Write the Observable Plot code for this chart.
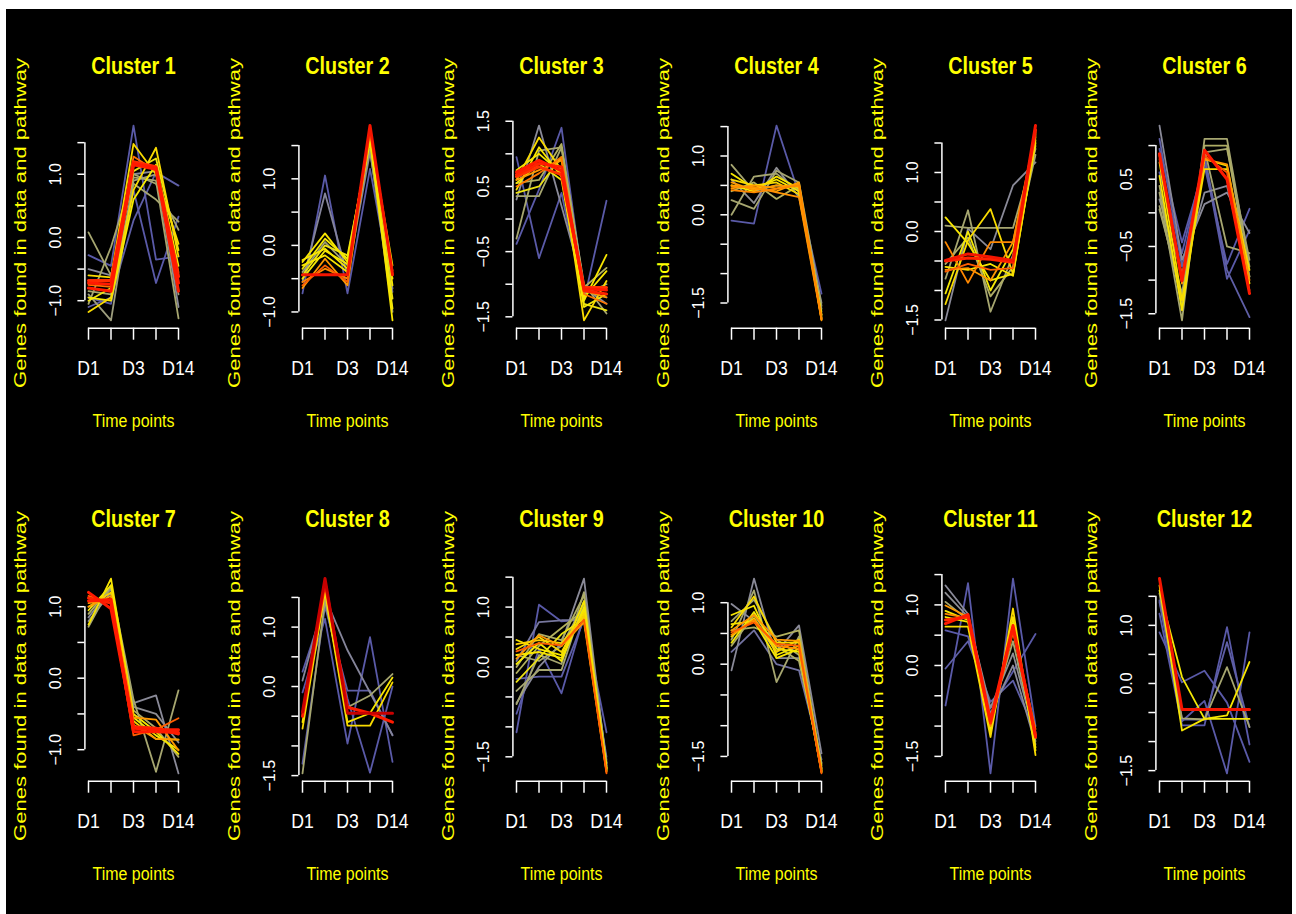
<!DOCTYPE html>
<html><head><meta charset="utf-8">
<script src="https://cdn.jsdelivr.net/npm/d3@7"></script>
<script src="https://cdn.jsdelivr.net/npm/@observablehq/plot@0.6"></script>
<style>
html,body{margin:0;padding:0;background:#fff;}
#root{position:relative;width:1296px;height:914px;overflow:hidden;background:#fff;}
#bg{position:absolute;left:6px;top:9px;width:1286px;height:906px;background:#000;}
.panel{position:absolute;}
</style></head><body><div id="root"><div id="bg"></div></div>
<script>
// ---------- data ----------
const timeIndex = [1, 2, 3, 4, 5];
const timeTickLabels = [[1, "D1"], [3, "D3"], [5, "D14"]];
const clusterNames = ["Cluster 1","Cluster 2","Cluster 3","Cluster 4","Cluster 5","Cluster 6",
  "Cluster 7","Cluster 8","Cluster 9","Cluster 10","Cluster 11","Cluster 12"];
const yTitle = "Genes found in data and pathway";
const xTitle = "Time points";

// membership -> colour
const memberStops  = [0.1, 0.3, 0.45, 0.65, 0.8, 0.95, 1];
const memberColors = ["#5a5aa8", "#8a8a98", "#a6a670", "#f8ec00", "#ff9900", "#ff1a00", "#c80000"];

// each row: [membership, D1, t2, D3, t4, D14]
const cluster1 = [
  [0.10,-0.28,-0.45,1.77,-0.35,-0.30],[0.10,-0.95,-1.05,0.75,-0.72,0.33],[0.12,-1.10,-0.95,0.27,1.03,0.82],
  [0.45,0.08,-0.60,0.95,0.90,-1.28],[0.40,-0.90,-1.312,0.90,1.00,-0.90],[0.45,-1.05,-0.15,1.00,0.85,0.12],
  [0.30,-0.50,-0.60,1.00,1.05,-1.10],[0.45,-0.85,-0.90,0.85,0.60,0.25],[0.68,-1.18,-0.95,0.75,1.42,-0.30],
  [0.68,-0.60,-0.63,1.48,1.00,-0.10],[0.65,-0.95,-1.00,0.60,1.15,-0.45],[0.62,-1.00,-0.80,1.05,1.25,-0.20],
  [0.85,-0.75,-0.78,1.28,1.05,-0.55],[0.95,-0.72,-0.74,1.17,1.10,-0.72],[0.95,-0.80,-0.85,1.15,1.08,-0.85],
  [0.93,-0.68,-0.68,1.20,1.12,-0.62]];
const cluster2 = [
  [0.10,-0.72,1.05,-0.72,1.15,-0.70],[0.28,-0.55,0.78,-0.45,1.40,-0.65],[0.42,-0.40,0.05,-0.30,1.45,-1.00],
  [0.66,-0.25,0.18,-0.25,1.65,-1.127],[0.64,-0.35,0.10,-0.20,1.60,-0.95],[0.66,-0.22,-0.05,-0.35,1.70,-0.60],
  [0.62,-0.45,0.00,-0.15,1.55,-0.80],[0.66,-0.30,-0.15,-0.40,1.62,-0.50],[0.64,-0.50,-0.08,-0.28,1.68,-0.30],
  [0.80,-0.64,-0.20,-0.60,1.72,-0.45],[0.82,-0.55,-0.35,-0.50,1.70,-0.38],[0.87,-0.60,-0.30,-0.55,1.75,-0.42],
  [0.96,-0.44,-0.44,-0.44,1.80,-0.44]];
const cluster3 = [
  [0.10,0.95,-0.60,0.40,-1.25,0.28],[0.10,-0.38,0.45,1.40,-1.10,-1.20],[0.30,0.30,1.433,0.20,-1.05,-1.30],
  [0.45,-0.30,1.05,1.10,-1.00,-1.45],[0.45,0.35,0.35,1.10,-1.15,-1.00],[0.48,0.55,0.60,1.15,-1.05,-0.75],
  [0.68,0.60,1.25,0.75,-1.555,-0.95],[0.66,0.45,1.10,0.65,-1.25,-0.55],[0.62,0.40,0.50,0.95,-1.30,-1.40],
  [0.66,0.75,1.00,0.70,-1.20,-0.80],[0.64,0.55,0.85,0.60,-1.35,-1.15],[0.80,0.60,0.75,0.90,-1.10,-1.20],
  [0.84,0.50,0.70,0.95,-1.15,-1.30],[0.95,0.72,0.90,0.74,-1.07,-1.09],[0.94,0.68,0.85,0.80,-1.10,-1.15],
  [0.92,0.65,0.80,0.68,-1.05,-1.05]];
const cluster4 = [
  [0.10,-0.10,-0.15,1.517,0.35,-1.34],[0.45,0.85,0.40,0.50,0.45,-1.60],[0.45,0.00,0.65,0.70,0.40,-1.65],
  [0.45,0.25,0.10,0.75,0.55,-1.55],[0.32,0.60,0.20,0.80,0.30,-1.50],[0.48,0.40,0.55,0.27,0.50,-1.70],
  [0.66,0.70,0.45,0.60,0.40,-1.72],[0.68,0.60,0.50,0.55,0.35,-1.75],[0.66,0.50,0.40,0.65,0.45,-1.70],
  [0.78,0.50,0.45,0.40,0.55,-1.78],[0.80,0.45,0.50,0.45,0.52,-1.796],[0.80,0.55,0.42,0.50,0.48,-1.77],
  [0.82,0.42,0.38,0.44,0.50,-1.76],[0.81,0.48,0.47,0.38,0.30,-1.78]];
const cluster5 = [
  [0.30,-1.507,0.05,-0.30,0.78,1.17],[0.45,-0.80,0.36,-1.36,-0.40,1.30],[0.45,0.10,0.06,0.06,0.06,1.40],
  [0.47,-0.55,-0.10,-1.10,-0.60,1.45],[0.66,0.24,-0.20,-0.83,-0.72,1.60],[0.68,-1.23,-0.15,0.38,-0.72,1.50],
  [0.64,-1.05,0.00,-1.00,-0.30,1.65],[0.66,-0.60,-0.65,-0.55,-0.75,1.55],[0.82,-0.18,-0.87,-0.18,-0.18,1.68],
  [0.80,-0.65,-0.62,-0.83,-0.18,1.62],[0.87,-0.68,-0.55,-0.65,-0.62,1.72],[0.96,-0.49,-0.38,-0.43,-0.49,1.795],
  [0.94,-0.50,-0.45,-0.47,-0.52,1.72]];
const cluster6 = [
  [0.10,0.95,-0.44,0.70,-0.76,0.06],[0.10,0.60,-0.60,0.80,-0.98,-0.26],[0.12,1.10,-0.80,0.85,-0.85,-1.55],
  [0.30,1.297,-0.70,0.13,0.30,-0.30],[0.30,0.20,-0.90,0.30,0.40,-0.95],[0.45,0.30,-1.599,1.10,1.10,-0.80],
  [0.45,0.10,-1.30,0.95,-0.50,-0.60],[0.47,0.40,-1.40,1.00,1.00,-0.95],[0.45,0.05,-1.20,0.90,0.95,-0.70],
  [0.68,0.75,-1.30,0.65,0.65,-0.85],[0.66,0.55,-1.45,0.80,0.70,-1.05],[0.80,0.85,-1.05,0.80,0.72,-1.00],
  [0.95,0.88,-1.01,0.93,0.50,-1.20],[0.88,0.80,-0.95,0.85,0.60,-1.15]];
const cluster7 = [
  [0.30,0.85,1.25,-0.35,-0.24,-1.332],[0.32,0.80,1.20,-0.40,-0.50,-0.90],[0.45,0.72,1.30,-0.30,-1.31,-0.17],
  [0.47,0.90,1.28,-0.45,-0.70,-1.10],[0.66,0.75,1.393,-0.50,-0.75,-1.06],[0.64,0.95,1.30,-0.55,-0.80,-1.00],
  [0.70,1.00,1.20,-0.60,-0.85,-0.86],[0.80,1.00,1.15,-0.55,-0.58,-1.01],[0.87,1.15,1.05,-0.80,-0.72,-0.56],
  [0.80,1.05,1.10,-0.65,-0.85,-0.86],[0.95,1.20,0.97,-0.70,-0.72,-0.72],[0.95,1.08,1.10,-0.75,-0.75,-0.76],
  [0.94,1.12,1.05,-0.68,-0.70,-0.78]];
const cluster8 = [
  [0.10,-0.10,1.14,-0.96,0.83,-1.27],[0.12,-1.30,1.35,-0.07,-0.07,-0.82],[0.10,0.25,1.40,-0.20,-1.45,0.00],
  [0.28,0.10,1.50,0.61,-0.10,-0.82],[0.45,-1.463,1.45,-0.35,-0.15,0.21],[0.68,-0.71,1.59,-0.66,-0.66,0.07],
  [0.66,-0.60,1.65,-0.60,-0.45,0.15],[0.95,-0.50,1.75,-0.35,-0.45,-0.60],[1.00,-0.43,1.817,-0.45,-0.45,-0.45]];
const cluster9 = [
  [0.10,-1.09,1.04,0.76,0.80,-1.09],[0.10,-0.78,0.30,-0.44,0.85,-1.50],[0.12,-0.20,-0.16,-0.16,0.80,-1.60],
  [0.22,0.10,0.75,0.78,0.78,-1.55],[0.30,-0.60,0.00,0.40,1.476,-1.65],[0.45,-0.62,0.20,0.05,1.25,-1.60],
  [0.45,-0.40,-0.05,-0.05,1.10,-1.65],[0.47,0.00,0.55,0.45,1.20,-1.70],[0.45,0.20,0.10,0.35,1.05,-1.62],
  [0.48,-0.10,0.35,0.65,0.95,-1.68],[0.66,0.45,0.30,0.20,1.10,-1.70],[0.64,0.05,0.40,0.10,1.00,-1.72],
  [0.68,0.30,0.50,0.25,0.90,-1.75],[0.70,0.38,0.45,0.40,0.85,-1.70],[0.62,-0.25,0.15,0.55,0.80,-1.73],
  [0.66,0.20,0.25,0.15,0.95,-1.68],[0.80,0.14,0.53,0.35,0.75,-1.75],[0.87,0.26,0.40,0.36,0.79,-1.777]];
const cluster10 = [
  [0.20,0.20,0.55,0.00,-0.10,-1.55],[0.30,-0.10,1.392,0.10,0.10,-1.60],[0.30,0.98,0.70,0.20,0.63,-1.45],
  [0.45,0.40,1.20,-0.29,0.45,-1.65],[0.45,0.70,1.05,0.40,0.15,-1.70],[0.47,0.30,0.80,0.30,0.05,-1.62],
  [0.48,0.55,0.60,0.45,0.55,-1.68],[0.66,0.80,0.95,0.15,0.30,-1.72],[0.64,0.35,0.85,0.25,0.20,-1.75],
  [0.68,0.60,1.10,0.35,0.35,-1.70],[0.70,0.45,0.75,0.20,0.40,-1.73],[0.66,0.65,0.70,0.10,0.25,-1.76],
  [0.80,0.55,0.80,0.40,0.38,-1.74],[0.82,0.48,0.72,0.30,0.25,-1.75],[0.87,0.52,0.68,0.33,0.30,-1.776]];
const cluster11 = [
  [0.10,-0.66,1.36,-1.781,1.434,-1.00],[0.10,0.58,0.48,-0.70,-0.10,0.52],[0.12,-0.05,0.40,-0.60,-0.25,-1.10],
  [0.30,1.32,0.85,-0.80,0.00,-1.30],[0.32,1.20,0.80,-0.70,0.20,-1.20],[0.45,1.05,0.75,-0.85,0.40,-1.25],
  [0.66,0.90,0.75,-1.05,0.70,-1.35],[0.68,0.64,0.64,-1.18,0.94,-1.48],[0.66,0.80,0.72,-1.10,0.80,-1.40],
  [0.80,0.99,0.80,-0.98,0.55,-1.05],[0.82,0.85,0.78,-1.00,0.60,-1.20],[0.95,0.69,0.84,-0.91,0.66,-1.18],
  [0.93,0.75,0.80,-0.95,0.62,-1.15]];
const cluster12 = [
  [0.10,0.88,0.02,0.22,-0.33,-1.35],[0.10,1.20,-0.72,-0.72,0.97,-1.05],[0.10,1.43,-0.65,-0.30,-1.548,0.88],
  [0.12,1.40,-0.62,-0.62,0.71,-0.75],[0.45,1.55,-0.60,-0.62,0.28,-0.75],[0.66,1.69,-0.81,-0.61,-0.55,0.37],
  [0.64,1.60,0.11,-0.61,-0.61,-0.61],[0.96,1.805,-0.45,-0.45,-0.45,-0.45]];
const clusters = [cluster1,cluster2,cluster3,cluster4,cluster5,cluster6,
  cluster7,cluster8,cluster9,cluster10,cluster11,cluster12];

// y-axis tick extents and which ticks carry labels
const yTickSpans = [[-1,1.5],[-1,1.5],[-1.5,1.5],[-1.5,1.5],[-1.5,1.5],[-1.5,1],
  [-1,1],[-1.5,1.5],[-1.5,1.5],[-1.5,1],[-1.5,1.5],[-1.5,1.5]];
const yTickLabels = [[-1,0,1],[-1,0,1],[-1.5,-0.5,0.5,1.5],[-1.5,0,1],[-1.5,0,1],[-1.5,-0.5,0.5],
  [-1,0,1],[-1.5,0,1],[-1.5,0,1],[-1.5,0,1],[-1.5,0,1],[-1.5,0,1]];

// ---------- drawing ----------
const sans = "'Liberation Sans',Arial,sans-serif";
const W = 214, H = 453;
const ML = 78.4, MR = 38.4, MT = 108.3, MB = 134.3;
const fmt = d => (d < 0 ? "\u2212" : "") + Math.abs(d).toFixed(1);
const narrowTexts = new Set([...clusterNames, xTitle, ...timeTickLabels.map(d => d[1])]);

const root = document.getElementById("root");
clusters.forEach((lines, k) => {
  const rows = [];
  lines.map((l, i) => ({id: i, m: l[0], vals: l.slice(1)}))
    .sort((a, b) => a.m - b.m)
    .forEach(l => l.vals.forEach((v, j) => rows.push({id: l.id, m: l.m, t: timeIndex[j], v})));
  const [vmin, vmax] = d3.extent(rows, d => d.v);
  const pad = 0.04 * (vmax - vmin);
  const t0 = timeIndex[0], t1 = timeIndex[timeIndex.length - 1];
  const tpad = 0.04 * (t1 - t0);
  const xd = [t0 - tpad, t1 + tpad];
  const yd = [vmin - pad, vmax + pad];
  const span = yTickSpans[k];
  const yt = d3.range(Math.round(span[0] * 2), Math.round(span[1] * 2) + 1).map(d => d / 2);

  const svg = Plot.plot({
    width: W, height: H,
    marginLeft: ML, marginRight: MR, marginTop: MT, marginBottom: MB,
    x: {domain: xd, axis: null, label: null},
    y: {domain: yd, axis: null, label: null},
    color: {type: "linear", domain: memberStops, range: memberColors},
    style: {background: "transparent", color: "white", overflow: "visible"},
    marks: [
      Plot.line(rows, {x: "t", y: "v", z: "id", stroke: "m",
        strokeWidth: d => d.m >= 0.9 ? 3 : 1.8, curve: "linear"}),
      Plot.axisY({ticks: yt, tickSize: 7, tickFormat: () => "", strokeWidth: 1.5, label: null}),
      Plot.ruleX([xd[0]], {y1: yt[0], y2: yt[yt.length - 1], stroke: "white", strokeWidth: 1.5}),
      Plot.text(yTickLabels[k], {y: d => d, text: fmt, frameAnchor: "left", dx: -29, rotate: -90,
        textAnchor: "middle", lineAnchor: "middle", fill: "white", fontSize: 16, fontFamily: sans}),
      Plot.axisX({ticks: timeIndex, tickSize: 12, tickFormat: () => "", strokeWidth: 1.5, label: null}),
      Plot.ruleY([yd[0]], {x1: t0, x2: t1, stroke: "white", strokeWidth: 1.5}),
      Plot.text(timeTickLabels, {x: d => d[0], text: d => d[1], frameAnchor: "bottom", dy: 40,
        lineAnchor: "middle", textAnchor: "middle", fill: "white", fontSize: 21, fontFamily: sans}),
      Plot.text([clusterNames[k]], {text: d => d, frameAnchor: "top", dy: -51.3, lineAnchor: "middle",
        textAnchor: "middle", fill: "#ffff00", fontSize: 23.5, fontWeight: "bold", fontFamily: sans}),
      Plot.text([xTitle], {text: d => d, frameAnchor: "bottom", dy: 92.7, lineAnchor: "middle",
        textAnchor: "middle", fill: "#ffff00", fontSize: 19, fontFamily: sans}),
      Plot.text([yTitle], {text: d => d, frameAnchor: "left", dx: -64, rotate: -90, lineAnchor: "middle",
        textAnchor: "middle", fill: "#ffff00", fontSize: 17, fontFamily: sans})
    ]
  });
  // condensed look for the narrow-font texts (scaled horizontally about each text's anchor)
  d3.select(svg).selectAll("text").each(function() {
    const el = this;
    if (el.textContent === yTitle) {
      el.setAttribute("textLength", 330);
      el.setAttribute("lengthAdjust", "spacingAndGlyphs");
    } else if (narrowTexts.has(el.textContent)) {
      const t = el.getAttribute("transform") || "";
      el.setAttribute("transform", `${t} scale(0.84,1)`);
    }
  });
  const col = k % 6, row = Math.floor(k / 6);
  const div = document.createElement("div");
  div.className = "panel";
  div.style.left = (6 + col * 214.17) + "px";
  div.style.top = (9 + row * 453) + "px";
  div.appendChild(svg);
  root.appendChild(div);
});
</script></body></html>
